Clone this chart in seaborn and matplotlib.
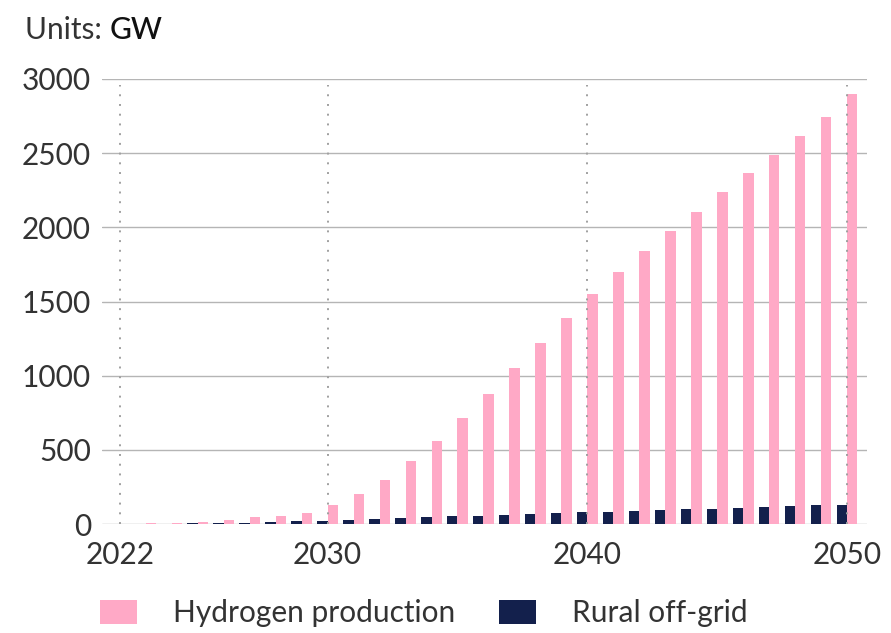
import numpy as np
import pandas as pd
import matplotlib
matplotlib.use("Agg")
import matplotlib.pyplot as plt
from matplotlib.patches import Patch
import seaborn as sns

# Data (GW)
years = list(range(2022, 2051))
hydrogen = [2, 7, 9, 13, 29, 47, 56, 76, 125, 200, 299, 423, 562, 715, 879,
            1050, 1221, 1392, 1551, 1698, 1842, 1974, 2105, 2238, 2366, 2489,
            2613, 2746, 2899]
rural = [0, 1, 2, 4, 5, 8, 13, 18, 22, 27, 34, 40, 45, 52, 56, 61, 67, 72,
         79, 83, 88, 94, 99, 103, 108, 115, 119, 126, 128]
series_names = ["Hydrogen production", "Rural off-grid"]
colors = {"Hydrogen production": "#ffa9c6", "Rural off-grid": "#13204c"}
marked_years = [2022, 2030, 2040, 2050]
y_ticks = [0, 500, 1000, 1500, 2000, 2500, 3000]

df = pd.DataFrame({
    "year": years * 2,
    "value": rural + hydrogen,
    "series": ["Rural off-grid"] * len(years) + ["Hydrogen production"] * len(years),
})

sns.set_style("white")
plt.rcParams["font.family"] = ["Lato", "DejaVu Sans"]
text_col = "#333333"
fs = 21.5

fig = plt.figure(figsize=(8.91, 6.33), dpi=100)
ax = fig.add_axes([102 / 891, 1 - 524 / 633, (867 - 102) / 891, (524 - 79) / 633])

sns.barplot(data=df, x="year", y="value", hue="series",
            hue_order=["Rural off-grid", "Hydrogen production"],
            palette=colors, native_scale=True, errorbar=None, saturation=1,
            width=0.8, legend=False, ax=ax, zorder=2, linewidth=0)

# dotted year markers
for yr in marked_years:
    ax.axvline(yr, ymin=0, ymax=0.986, color="#a0a0a0", lw=1.4,
               ls=(0, (1, 4)), zorder=3)

ax.set_xlim(2021.31, 2050.77)
ax.set_ylim(0, 3000)
ax.set_yticks(y_ticks)
ax.set_xticks(marked_years)
ax.set_xticklabels([str(y) for y in marked_years])
ax.yaxis.grid(True, color="#b5b5b5", lw=1, zorder=0)
ax.xaxis.grid(False)
ax.set_axisbelow(True)
for s in ax.spines.values():
    s.set_visible(False)
ax.tick_params(axis="y", length=0, pad=8, labelsize=fs, labelcolor=text_col)
ax.tick_params(axis="x", length=0, pad=12, labelsize=fs, labelcolor=text_col)
ax.set_xlabel("")
ax.set_ylabel("")

# units label
fig.text(25 / 891, 1 - 30 / 633, "Units: ", fontsize=fs, color=text_col,
         va="center", ha="left")
t = fig.text(25 / 891, 1 - 30 / 633, "Units: ", fontsize=fs, alpha=0,
             va="center", ha="left")
fig.canvas.draw()
bb = t.get_window_extent()
fig.text(bb.x1 / fig.bbox.width, 1 - 30 / 633, "GW", fontsize=fs,
         color="#111111", fontweight="medium", va="center", ha="left")

handles = [Patch(facecolor=colors[n], edgecolor="none", label=n) for n in series_names]
fig.legend(handles=handles, loc="center left", ncol=2,
           bbox_to_anchor=(100 / 891, 1 - 613 / 633), frameon=False,
           fontsize=fs, handlelength=1.25, handleheight=0.85,
           handletextpad=1.2, columnspacing=1.45, borderpad=0,
           borderaxespad=0, labelcolor=text_col)

fig.savefig("out.png", dpi=100)
